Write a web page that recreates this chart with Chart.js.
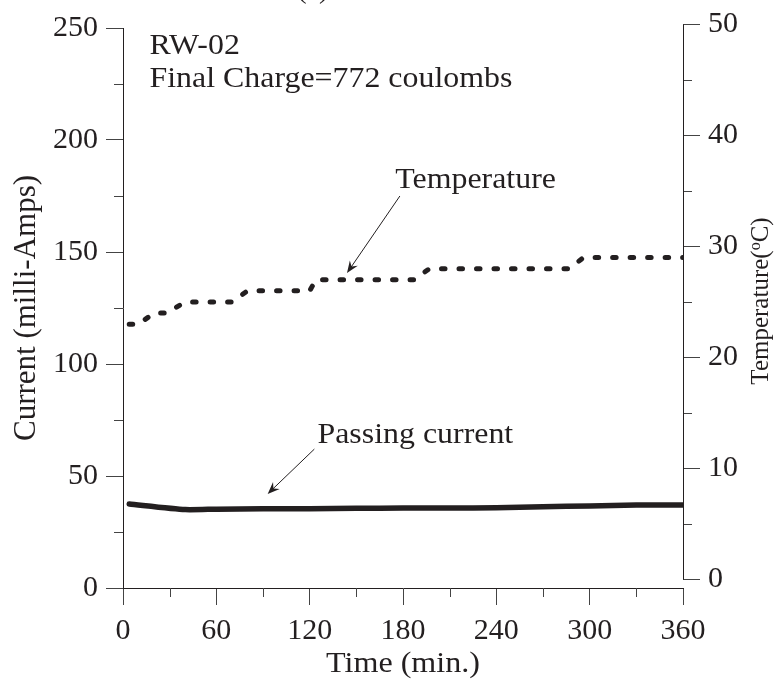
<!DOCTYPE html>
<html lang="en">
<head>
  <meta charset="UTF-8" />
  <title>RW-02 current and temperature</title>
  <script src="https://cdn.jsdelivr.net/npm/chart.js"></script>
  <style>
    * { margin: 0; padding: 0; box-sizing: border-box; }
    body { background: #fff; }
    .wrap { width: 774px; height: 687px; position: relative; }
  </style>
</head>
<body>
  <div class="wrap"><canvas id="chart"></canvas></div>

  <script>
    // time axis in minutes
    const timeTicks = [0, 60, 120, 180, 240, 300, 360];

    // passing current (mA)
    const timeCur = [4, 40, 60, 90, 120, 150, 180, 210, 240, 270, 300, 330, 360];
    const currentMA = [37.5, 35, 35.2, 35.4, 35.4, 35.6, 35.7, 35.7, 35.8, 36.3, 36.6, 37, 37];

    // temperature (deg C), stepped record
    const timeTemp = [4, 10, 20, 28, 40, 70, 80, 120, 124, 187, 197, 287, 296, 360];
    const tempC = [23, 23, 24, 24, 25, 25, 26, 26, 27, 27, 28, 28, 29, 29];

    const ink = '#231f20';
    const serif = "'Liberation Serif', 'DejaVu Serif', serif";

    const curPoints = timeCur.map((t, i) => ({ x: t, y: currentMA[i] }));
    const tempPoints = timeTemp.map((t, i) => ({ x: t, y: tempC[i] }));

    // short minor ticks, Chart.js only gives one tick length
    // also the temperature axis line, which sits a little higher than the current axis
    const minorTicks = {
      id: 'minorTicks',
      afterDraw(chart) {
        const { ctx } = chart;
        const { x, yCur, yTemp } = chart.scales;
        ctx.save();
        ctx.strokeStyle = '#444';
        ctx.lineWidth = 1;
        ctx.beginPath();
        x.ticks.forEach(t => {
          if (t.value % 60 !== 0) {
            const px = Math.round(x.getPixelForValue(t.value)) + 0.5;
            ctx.moveTo(px, x.top); ctx.lineTo(px, x.top + 9);
          }
        });
        yCur.ticks.forEach(t => {
          if (t.value % 50 !== 0) {
            const py = Math.round(yCur.getPixelForValue(t.value)) + 0.5;
            ctx.moveTo(yCur.right - 9, py); ctx.lineTo(yCur.right, py);
          }
        });
        yTemp.ticks.forEach(t => {
          if (t.value % 10 !== 0) {
            const py = Math.round(yTemp.getPixelForValue(t.value)) + 0.5;
            ctx.moveTo(yTemp.left, py); ctx.lineTo(yTemp.left + 9, py);
          }
        });
        ctx.stroke();
        ctx.strokeStyle = ink;
        ctx.beginPath();
        const ax = Math.round(yTemp.left) + 0.5;
        ctx.moveTo(ax, Math.round(yTemp.getPixelForValue(0)) + 0.5);
        ctx.lineTo(ax, Math.round(yTemp.getPixelForValue(50)) + 0.5);
        ctx.stroke();
        ctx.restore();
      }
    };

    function arrow(ctx, x1, y1, x2, y2) {
      const a = Math.atan2(y2 - y1, x2 - x1);
      ctx.beginPath();
      ctx.moveTo(x1, y1);
      ctx.lineTo(x2 - 6 * Math.cos(a), y2 - 6 * Math.sin(a));
      ctx.stroke();
      const len = 13, spread = 0.38;
      ctx.beginPath();
      ctx.moveTo(x2, y2);
      ctx.lineTo(x2 - len * Math.cos(a - spread), y2 - len * Math.sin(a - spread));
      ctx.lineTo(x2 - 8 * Math.cos(a), y2 - 8 * Math.sin(a));
      ctx.lineTo(x2 - len * Math.cos(a + spread), y2 - len * Math.sin(a + spread));
      ctx.closePath();
      ctx.fill();
    }

    // the figure's lettering is a little wider than Times
    function wideText(ctx, text, x, y, size) {
      ctx.save();
      ctx.translate(x, y);
      ctx.scale(1.1, 1);
      ctx.font = size + 'px ' + serif;
      ctx.fillText(text, 0, 0);
      ctx.restore();
    }

    const notes = {
      id: 'notes',
      afterDraw(chart) {
        const { ctx } = chart;
        const { x, yCur, yTemp } = chart.scales;
        ctx.save();
        ctx.fillStyle = ink;
        ctx.strokeStyle = ink;
        ctx.lineWidth = 1;
        ctx.textBaseline = 'middle';
        ctx.textAlign = 'center';
        ctx.font = '28px ' + serif;
        ctx.fillText('(a)', x.getPixelForValue(122), -9);
        ctx.textAlign = 'left';
        wideText(ctx, 'RW-02', x.getPixelForValue(17), yCur.getPixelForValue(242), 29);
        wideText(ctx, 'Final Charge=772 coulombs', x.getPixelForValue(17), yCur.getPixelForValue(227), 29);
        wideText(ctx, 'Temperature', x.getPixelForValue(175), yCur.getPixelForValue(182), 29);
        wideText(ctx, 'Passing current', x.getPixelForValue(125), yCur.getPixelForValue(68), 29);
        arrow(ctx, x.getPixelForValue(178), yCur.getPixelForValue(175),
                   x.getPixelForValue(144), yTemp.getPixelForValue(27.6));
        arrow(ctx, x.getPixelForValue(123), yCur.getPixelForValue(62),
                   x.getPixelForValue(93), yCur.getPixelForValue(42));

        // x axis title, drawn here so it can be widened like the rest
        ctx.textAlign = 'center';
        ctx.save();
        ctx.translate((x.left + x.right) / 2, 664);
        ctx.scale(1.07, 1);
        ctx.font = '30px ' + serif;
        ctx.fillText('Time (min.)', 0, 0);
        ctx.restore();
        ctx.textAlign = 'left';

        // right axis title reads bottom to top, with a raised small "o"
        ctx.save();
        ctx.translate(761, 301);
        ctx.rotate(-Math.PI / 2);
        const big = '25px ' + serif, small = '16px ' + serif;
        ctx.font = big;
        const w1 = ctx.measureText('Temperature(').width;
        const w3 = ctx.measureText('C)').width;
        ctx.font = small;
        const w2 = ctx.measureText('o').width;
        const sx = -(w1 + w2 + w3) / 2;
        ctx.font = big;
        ctx.fillText('Temperature(', sx, 0);
        ctx.font = small;
        ctx.fillText('o', sx + w1, -5);
        ctx.font = big;
        ctx.fillText('C)', sx + w1 + w2, 0);
        ctx.restore();

        ctx.restore();
      }
    };

    new Chart(document.getElementById('chart'), {
      type: 'line',
      data: {
        datasets: [
          {
            label: 'Passing current',
            data: curPoints,
            yAxisID: 'yCur',
            borderColor: ink,
            borderWidth: 5.5,
            borderCapStyle: 'round',
            borderJoinStyle: 'round',
            pointRadius: 0,
            tension: 0.2,
            fill: false
          },
          {
            label: 'Temperature',
            data: tempPoints,
            yAxisID: 'yTemp',
            borderColor: ink,
            borderWidth: 5,
            borderCapStyle: 'round',
            borderDash: [3.5, 14],
            pointRadius: 0,
            tension: 0,
            fill: false
          }
        ]
      },
      options: {
        responsive: true,
        maintainAspectRatio: false,
        animation: false,
        layout: { padding: { top: 28, left: 0, right: 0, bottom: 0 } },
        plugins: {
          legend: { display: false },
          tooltip: { enabled: false }
        },
        scales: {
          x: {
            type: 'linear',
            min: 0,
            max: 360,
            afterBuildTicks: s => { s.ticks = []; for (let v = 0; v <= 360; v += 30) s.ticks.push({ value: v }); },
            afterFit: s => { s.height = 99; },
            border: { display: true, color: ink, width: 1 },
            grid: {
              drawOnChartArea: false,
              tickLength: 17,
              color: c => (c.tick && c.tick.value % 60 === 0) ? '#444' : 'rgba(0,0,0,0)'
            },
            ticks: {
              color: ink,
              font: { family: serif, size: 30 },
              padding: 8,
              maxRotation: 0,
              autoSkip: false,
              callback: v => timeTicks.includes(v) ? String(v) : ''
            },
            title: { display: false }
          },
          yCur: {
            position: 'left',
            min: 0,
            max: 250,
            afterBuildTicks: s => { s.ticks = []; for (let v = 0; v <= 250; v += 25) s.ticks.push({ value: v }); },
            afterFit: s => { s.width = 123; },
            border: { display: true, color: ink, width: 1 },
            grid: {
              drawOnChartArea: false,
              tickLength: 17,
              color: c => (c.tick && c.tick.value % 50 === 0) ? '#444' : 'rgba(0,0,0,0)'
            },
            ticks: {
              color: ink,
              font: { family: serif, size: 30 },
              padding: 8,
              autoSkip: false,
              callback: v => v % 50 === 0 ? String(v) : ''
            },
            title: {
              display: true,
              text: 'Current (milli-Amps)',
              color: ink,
              font: { family: serif, size: 31 },
              padding: { top: 8, bottom: 0 }
            }
          },
          yTemp: {
            position: 'right',
            // the temperature axis runs from 0 at y=579 to 50 at y=24 in the figure
            min: -0.77,
            max: 49.68,
            afterBuildTicks: s => { s.ticks = []; for (let v = 0; v <= 50; v += 5) s.ticks.push({ value: v }); },
            afterFit: s => { s.width = 91; },
            border: { display: false },
            grid: {
              drawOnChartArea: false,
              tickLength: 17,
              color: c => (c.tick && c.tick.value % 10 === 0) ? '#444' : 'rgba(0,0,0,0)'
            },
            ticks: {
              color: ink,
              font: { family: serif, size: 30 },
              padding: 8,
              autoSkip: false,
              callback: v => v % 10 === 0 ? String(v) : ''
            },
            title: { display: false }
          }
        }
      },
      plugins: [minorTicks, notes]
    });
  </script>
</body>
</html>
